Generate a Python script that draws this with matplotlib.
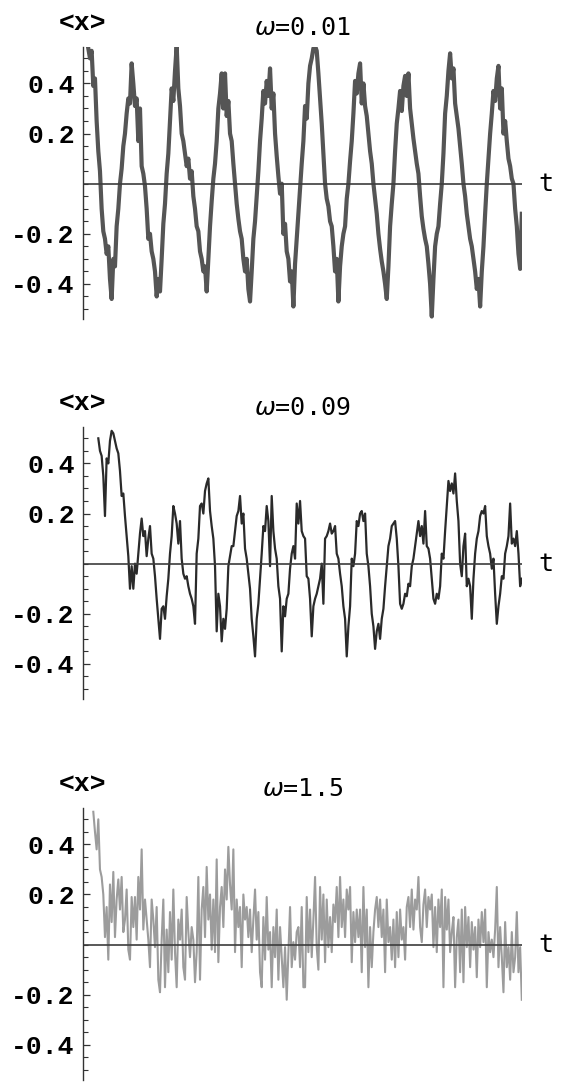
import matplotlib.pyplot as plt
import matplotlib.transforms as mtransforms
import numpy as np

# valores (t en unidades arbitrarias, 0..439)
omegas = ["0.01", "0.09", "1.5"]
t_inicio = [5.3, 15.3, 10.3]
t_fin = 438.7

x_w001 = [
    0.54, 0.50, 0.53, 0.39, 0.42, 0.25, 0.13, 0.05, -0.10, -0.19,
    -0.22, -0.28, -0.25, -0.38, -0.46, -0.30, -0.33, -0.17, -0.10, 0.00,
    0.06, 0.15, 0.20, 0.28, 0.34, 0.32, 0.48, 0.40, 0.31, 0.34,
    0.17, 0.30, 0.07, 0.04, -0.01, -0.10, -0.22, -0.20, -0.27, -0.30,
    -0.35, -0.45, -0.38, -0.43, -0.30, -0.16, -0.08, 0.04, 0.12, 0.25,
    0.38, 0.33, 0.45, 0.55, 0.38, 0.31, 0.20, 0.17, 0.12, 0.07,
    0.10, 0.02, 0.05, -0.05, -0.10, -0.17, -0.19, -0.27, -0.30, -0.35,
    -0.33, -0.43, -0.30, -0.17, -0.07, 0.02, 0.08, 0.17, 0.30, 0.36,
    0.44, 0.30, 0.44, 0.27, 0.33, 0.20, 0.17, 0.08, 0.00, -0.08,
    -0.14, -0.19, -0.22, -0.30, -0.35, -0.30, -0.42, -0.47, -0.35, -0.22,
    -0.15, -0.05, 0.05, 0.17, 0.26, 0.37, 0.32, 0.41, 0.35, 0.46,
    0.30, 0.36, 0.20, 0.11, 0.03, -0.04, 0.00, -0.20, -0.16, -0.27,
    -0.30, -0.39, -0.35, -0.49, -0.32, -0.22, -0.12, -0.02, 0.08, 0.17,
    0.31, 0.26, 0.40, 0.47, 0.50, 0.54, 0.55, 0.53, 0.44, 0.34,
    0.24, 0.12, 0.00, -0.06, -0.09, -0.15, -0.17, -0.25, -0.35, -0.30,
    -0.47, -0.33, -0.25, -0.20, -0.17, -0.06, 0.00, 0.09, 0.17, 0.28,
    0.41, 0.36, 0.44, 0.48, 0.32, 0.40, 0.31, 0.27, 0.20, 0.13,
    0.08, 0.00, -0.06, -0.12, -0.20, -0.26, -0.31, -0.35, -0.40, -0.46,
    -0.33, -0.17, -0.08, 0.00, 0.13, 0.24, 0.30, 0.37, 0.29, 0.39,
    0.43, 0.35, 0.44, 0.30, 0.24, 0.18, 0.13, 0.08, 0.04, -0.05,
    -0.13, -0.18, -0.22, -0.25, -0.32, -0.40, -0.53, -0.38, -0.25, -0.20,
    -0.17, -0.08, 0.00, 0.12, 0.28, 0.35, 0.45, 0.52, 0.42, 0.46,
    0.32, 0.27, 0.22, 0.15, 0.08, 0.00, -0.05, -0.12, -0.17, -0.22,
    -0.25, -0.30, -0.35, -0.42, -0.38, -0.49, -0.35, -0.25, -0.12, 0.00,
    0.10, 0.20, 0.28, 0.37, 0.33, 0.42, 0.47, 0.30, 0.38, 0.20,
    0.25, 0.17, 0.10, 0.07, 0.02, 0.00, -0.10, -0.17, -0.28, -0.34,
    -0.12,
]

x_w009 = [
    0.50, 0.45, 0.43, 0.35, 0.19, 0.42, 0.40, 0.49, 0.53, 0.52,
    0.49, 0.46, 0.44, 0.37, 0.27, 0.28, 0.19, 0.11, 0.03, -0.10,
    -0.01, -0.10, 0.00, -0.04, 0.04, 0.12, 0.18, 0.11, 0.13, 0.03,
    0.10, 0.15, 0.04, 0.02, -0.05, -0.14, -0.22, -0.30, -0.18, -0.17,
    -0.22, -0.13, -0.06, 0.04, 0.11, 0.23, 0.20, 0.16, 0.08, 0.17,
    0.02, -0.04, -0.06, -0.05, -0.09, -0.12, -0.14, -0.17, -0.24, 0.04,
    0.10, 0.23, 0.24, 0.20, 0.29, 0.32, 0.34, 0.21, 0.15, 0.10,
    -0.01, -0.27, -0.12, -0.17, -0.31, -0.22, -0.26, -0.18, -0.01, 0.03,
    0.07, 0.07, 0.13, 0.19, 0.21, 0.27, 0.16, 0.20, 0.06, 0.02,
    -0.04, -0.10, -0.22, -0.29, -0.37, -0.22, -0.16, -0.06, 0.04, 0.15,
    0.13, 0.23, 0.17, -0.01, 0.27, 0.13, 0.06, 0.02, -0.09, -0.14,
    -0.35, -0.17, -0.21, -0.14, -0.12, -0.02, 0.04, 0.07, 0.02, 0.24,
    0.16, 0.25, 0.13, 0.11,
    0.10, -0.05, -0.06, -0.14, -0.29, -0.17, -0.14, -0.12, -0.09, -0.06,
    0.00, -0.16, 0.10, 0.11, 0.13, 0.16, 0.12, 0.13, 0.15, 0.04,
    0.02, -0.04, -0.09, -0.17, -0.22, -0.37, -0.25, -0.17, 0.02, -0.01,
    0.04, 0.17, 0.15, 0.20, 0.21, 0.17, 0.20, 0.04, -0.01, -0.09,
    -0.20, -0.25, -0.34, -0.27, -0.24, -0.30, -0.22, -0.18, -0.09, -0.01,
    0.07, 0.10, 0.15, 0.16, 0.17, 0.10, -0.01, -0.16, -0.18, -0.16,
    -0.12, -0.13, -0.08, -0.09, -0.01, 0.02, 0.07, 0.12, 0.17, 0.11,
    0.15, 0.08, 0.21, 0.07, 0.06, 0.02, -0.06, -0.14, -0.16, -0.12,
    -0.14, -0.09, 0.04, 0.02, 0.13, 0.23, 0.33, 0.29, 0.32, 0.28,
    0.36, 0.25, 0.17, 0.00, -0.05, 0.07, 0.12, -0.09, -0.06, -0.09,
    -0.22, -0.06, 0.04, 0.10, 0.13, 0.19, 0.21, 0.20, 0.23, 0.11,
    0.07, 0.04, -0.02, 0.02, -0.12, -0.24, -0.17, -0.12, -0.05, -0.06,
    0.04, 0.07, 0.11, 0.24, 0.08, 0.10, 0.07, 0.13, 0.04, -0.09,
    -0.06,
]

x_w15 = [
    0.53, 0.45, 0.38, 0.50, 0.30, 0.27, 0.20, 0.03, 0.15, -0.06,
    0.24, 0.09, 0.29, 0.03, 0.18, 0.26, 0.14, 0.27, 0.05, 0.10,
    0.22, -0.02, -0.06, 0.19, 0.07, 0.19, 0.02, 0.27, 0.14, 0.38,
    0.06, 0.18, 0.10, 0.02, -0.09, 0.18, 0.10, -0.01, 0.15, -0.14,
    -0.19, 0.02, 0.18, -0.17, 0.06, -0.11, 0.13, -0.06, 0.22, -0.03,
    -0.17, 0.10, 0.02, 0.14, -0.09, -0.14, 0.19, 0.05, -0.05, 0.07,
    0.02, -0.15, -0.03, 0.27, -0.14, 0.14, 0.23, 0.03, 0.31, 0.10,
    0.20, -0.02, 0.18, -0.03, 0.34, -0.07, 0.15, 0.23, 0.07, 0.30,
    0.18, 0.39, 0.24, 0.14, 0.38, -0.03, 0.18, 0.07, 0.15, -0.09,
    0.20, 0.10, 0.15, 0.03, 0.14, -0.03, 0.10, 0.22, 0.02, 0.13,
    -0.11, -0.17, 0.11, -0.06, 0.19, -0.02, 0.05, -0.17, 0.07, -0.05,
    0.14, -0.14, 0.07, -0.05, -0.17, -0.01, -0.22, -0.03, 0.15, -0.09,
    0.01, -0.06, 0.05, 0.07, -0.09, 0.15, -0.17,
    -0.17, 0.19, -0.03, 0.14, -0.05, 0.10, 0.27, -0.01, -0.10, 0.23,
    0.02, 0.20, -0.07, 0.18, -0.01, 0.11, -0.03, 0.16, 0.09, 0.23,
    0.03, 0.27, 0.07, 0.18, 0.03, 0.22, 0.14, 0.23, -0.07, 0.13,
    0.01, 0.14, 0.03, 0.14, -0.11, 0.23, -0.01, 0.14, -0.17, 0.07,
    -0.09, 0.05, 0.14, 0.19, 0.07, 0.18, 0.03, 0.14, -0.11, 0.18,
    0.01, 0.07, -0.06, 0.10, -0.09, 0.13, -0.05, 0.14, 0.02, 0.07,
    -0.06, 0.15, 0.19, 0.07, 0.22, 0.06, 0.18, 0.14, 0.27, 0.07,
    0.01, 0.16, 0.22, 0.07, 0.19, 0.14, 0.20, -0.01, 0.15, -0.03,
    0.18, 0.07, 0.22, -0.17, 0.19, 0.06, 0.18, -0.03, 0.05, 0.11,
    -0.17, 0.03, 0.10, -0.11, 0.14, -0.15, 0.15, -0.01, 0.11, -0.09,
    0.09, -0.02, 0.07, -0.13, 0.10, -0.01, 0.13, 0.01, 0.14, -0.17,
    0.05, -0.03, 0.02, -0.05, 0.06, 0.23, -0.09, 0.07, -0.05, -0.19,
    0.09, -0.09, -0.01, -0.14, 0.05, -0.11, -0.05, 0.13, -0.11, -0.01,
    -0.22,
]

y_ticks = [-0.4, -0.2, 0.2, 0.4]
y_tick_labels = ["-0.4", "-0.2", "0.2", "0.4"]

series = [x_w001, x_w009, x_w15]
colores = ["#555555", "#2a2a2a", "#9c9c9c"]
anchos = [3.0, 1.6, 1.5]

fig = plt.figure(figsize=(5.74, 10.9), dpi=100)
bottoms = [0.7073, 0.3587, 0.0092]

for i in range(3):
    ax = fig.add_axes([0.1446, bottoms[i], 0.765, 0.2495])
    t = np.linspace(t_inicio[i], t_fin, len(series[i]))
    ax.plot(t, series[i], color=colores[i], lw=anchos[i])
    ax.axhline(0, color="#3c3c3c", lw=1.2)

    ax.set_xlim(0, 439)
    ax.set_ylim(-0.54, 0.545)
    for s in ["top", "right", "bottom"]:
        ax.spines[s].set_visible(False)
    ax.spines["left"].set_color("#333333")
    ax.spines["left"].set_linewidth(1.0)

    ax.set_xticks([])
    ax.set_yticks(y_ticks)
    ax.set_yticklabels(y_tick_labels, fontfamily="Liberation Mono",
                       fontweight="bold", fontsize=19)
    ax.set_yticks(np.round(np.arange(-0.5, 0.55, 0.05), 2), minor=True)
    ax.tick_params(axis="y", which="major", direction="in", length=5,
                   width=0.9, pad=6, color="#333333")
    ax.tick_params(axis="y", which="minor", direction="in", length=3.5,
                   width=0.8, color="#333333")

    # etiquetas estilo mathematica
    ax.text(0, 1.088, "<x>", transform=ax.transAxes, ha="center", va="center",
            fontfamily="Liberation Mono", fontweight="bold", fontsize=19)
    ax.text(0.5, 1.07, r"$\omega$=" + omegas[i], transform=ax.transAxes,
            ha="center", va="center", fontfamily="DejaVu Sans Mono", fontsize=18)
    trans = mtransforms.blended_transform_factory(ax.transAxes, ax.transData)
    ax.text(1.055, 0, "t", transform=trans, ha="center", va="center",
            fontfamily="DejaVu Sans Mono", fontsize=18)

fig.savefig("out.png", dpi=100)
